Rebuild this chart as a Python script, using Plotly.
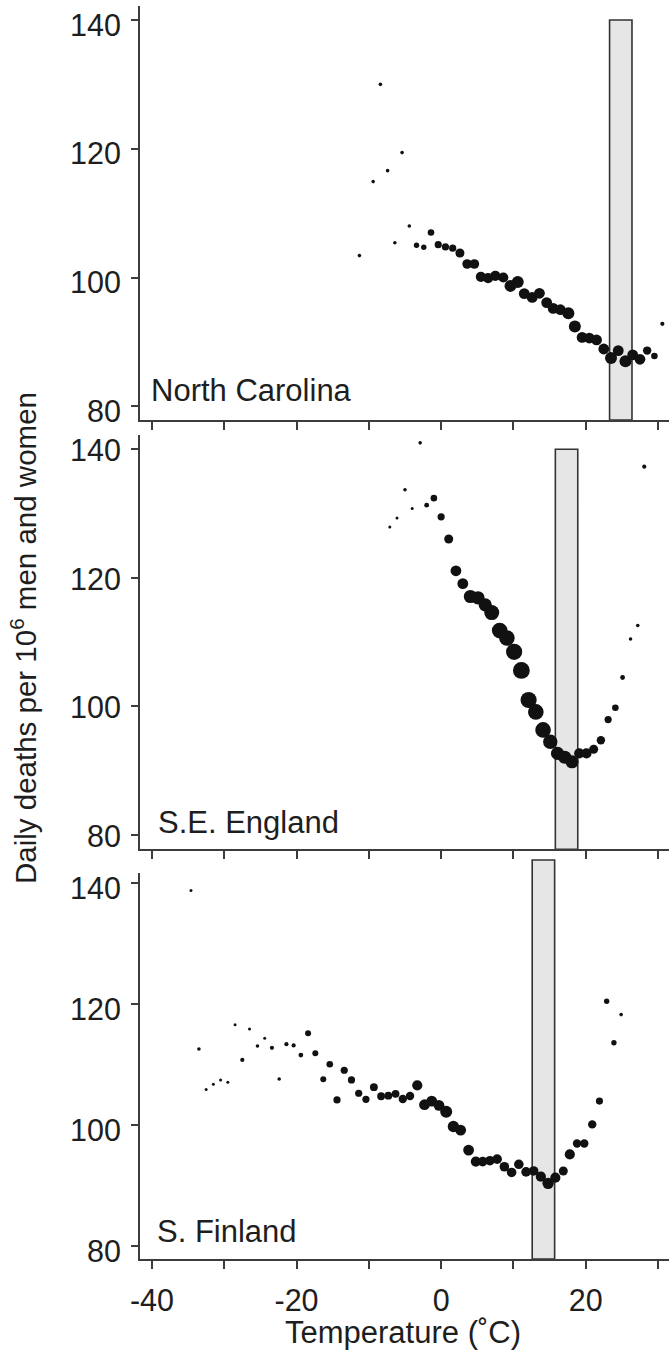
import plotly.graph_objects as go

# ---------------- data ----------------
nc_temp = [-11.3, -9.4, -8.4, -7.4, -6.4, -5.4, -4.4, -3.4, -2.4, -1.4, -0.4, 0.6, 1.6, 2.6,
           3.6, 4.6, 5.5, 6.5, 7.5, 8.6, 9.6, 10.6, 11.5, 12.6, 13.6, 14.6, 15.5, 16.5, 17.6,
           18.5, 19.5, 20.5, 21.5, 22.5, 23.5, 24.5, 25.5, 26.5, 27.5, 28.5, 29.5, 30.6]
nc_deaths = [103.4, 114.9, 130.0, 116.6, 105.4, 119.4, 108.0, 105.0, 104.7, 107.0, 105.1, 104.75,
             104.55, 103.8, 102.1, 102.1, 100.1, 99.9, 100.25, 100.0, 98.7, 99.3, 97.5, 96.9,
             97.55, 96.1, 95.2, 95.0, 94.45, 92.4, 90.7, 90.6, 90.3, 88.9, 87.5, 88.65, 87.0,
             88.0, 87.3, 88.65, 87.8, 92.8]
nc_size = [3, 3, 3, 3, 3, 3, 3, 4.5, 4.5, 5.5, 6, 6, 6, 7.5, 8, 8, 8.5, 8.5, 8.5, 8.5, 10, 10,
           9, 9, 9, 9, 9, 9, 10, 10, 9, 9, 9, 9, 10, 9, 10, 9, 9, 7, 5.5, 3.5]

se_temp = [-7.1, -6.1, -5.0, -4.0, -2.9, -2.0, -1.0, 0.0, 1.05, 2.05, 3.0, 4.05, 5.1, 6.1, 7.0,
           8.1, 9.1, 10.1, 11.1, 12.1, 13.1, 14.1, 15.1, 16.1, 17.1, 18.1, 19.1, 20.1, 21.1,
           22.1, 23.1, 24.1, 25.1, 26.2, 27.2, 28.1]
se_deaths = [127.9, 129.3, 133.7, 130.8, 141.0, 131.3, 132.4, 129.5, 126.05, 121.1, 119.1, 117.1,
             116.9, 115.8, 114.6, 111.8, 110.65, 108.5, 105.6, 101.0, 99.15, 96.35, 94.5, 92.7,
             92.1, 91.4, 92.7, 92.7, 93.35, 94.75, 97.95, 99.8, 104.5, 110.5, 112.6, 137.3]
se_size = [2.5, 2.5, 3, 2.5, 3, 4, 5.5, 6, 7.5, 9, 9, 11, 11, 11, 12.5, 13, 13, 13.5, 14, 13.5,
           13, 13, 12, 11, 11, 11, 8.5, 8.5, 7.5, 7, 6, 5.5, 4, 3, 3, 3.5]

fi_temp = [-34.6, -33.5, -32.5, -31.5, -30.5, -29.5, -28.5, -27.5, -26.5, -25.4, -24.4, -23.4,
           -22.4, -21.4, -20.4, -19.4, -18.4, -17.4, -16.3, -15.4, -14.4, -13.4, -12.4, -11.4,
           -10.4, -9.3, -8.3, -7.3, -6.3, -5.3, -4.3, -3.3, -2.3, -1.3, -0.3, 0.7, 1.7, 2.7, 3.8,
           4.8, 5.75, 6.75, 7.75, 8.75, 9.75, 10.75, 11.75, 12.8, 13.8, 14.8, 15.8, 16.9, 17.8,
           18.8, 19.8, 20.9, 21.9, 22.9, 23.9, 24.9]
fi_deaths = [138.7, 112.5, 105.8, 106.7, 107.4, 107.0, 116.5, 110.7, 115.8, 113.0, 114.3, 112.7,
             107.55, 113.3, 113.1, 111.5, 115.1, 111.8, 107.5, 110.0, 104.1, 109.0, 107.4, 105.2,
             104.2, 106.2, 104.7, 104.8, 105.1, 104.25, 104.75, 106.5, 103.3, 103.9, 103.2,
             102.15, 99.7, 99.1, 95.8, 93.9, 93.9, 94.05, 94.3, 93.05, 92.1, 93.45, 92.2, 92.35,
             91.4, 90.3, 91.25, 92.35, 95.1, 96.9, 96.9, 100.05, 103.9, 120.4, 113.55, 118.2]
fi_size = [2.5, 3, 2.5, 2.5, 2.5, 2.5, 2.5, 3.5, 2.5, 3, 2.5, 3.5, 3, 3.5, 3.5, 4, 5, 5, 5, 5.5,
           6, 6, 6, 6, 6, 6.5, 6.5, 6.5, 6.5, 7, 7, 8.5, 9, 9, 9, 10, 9.5, 9, 9, 8.5, 8, 8, 8, 8,
           8, 8, 8, 8, 8.5, 9.5, 8.5, 7.5, 8.5, 7, 7, 7, 6, 4.5, 4.5, 3]

panel_names = ["North Carolina", "S.E. England", "S. Finland"]
comfort_lo = [23.3, 15.8, 12.6]
comfort_hi = [26.4, 18.9, 15.7]
comfort_top = 140

x_ticks = [-40, -30, -20, -10, 0, 10, 20, 30]
x_tick_text = ["-40", "", "-20", "", "0", "", "20", ""]
y_ticks = [80, 100, 120, 140]

# ---------------- layout helpers ----------------
W, H = 669, 1352
ML, MR, MT, MB = 140, 0, 6, 93
PW, PH = W - ML - MR, H - MT - MB


def pxx(px):
    return (px - ML) / PW


def pxy(py):
    return (H - MB - py) / PH


FONT = "Liberation Sans, Arial, sans-serif"
AX = "#3c3c3c"
TXT = "#1e1e1e"
SIZE_SCALE = 1.2

# pixel extents of the three panels (top, bottom) and y ranges
panels_px = [(6, 420), (435, 849.3), (872.7, 1259)]
y_ranges = [[77.87, 142.17], [77.78, 142.22], [77.80, 141.65]]
y_label_shift = [5, 1, 6]
x_range = [-41.65, 31.52]

fig = go.Figure()
series = [(nc_temp, nc_deaths, nc_size), (se_temp, se_deaths, se_size), (fi_temp, fi_deaths, fi_size)]
for i, (xs, ys, ss) in enumerate(series):
    sfx = "" if i == 0 else str(i + 1)
    fig.add_trace(go.Scatter(
        x=xs, y=ys, mode="markers", xaxis="x" + sfx, yaxis="y" + sfx,
        marker=dict(size=[s * SIZE_SCALE for s in ss], color="#111111", opacity=1,
                    line=dict(width=0)),
        showlegend=False, hoverinfo="skip"))

layout = dict(
    template="none",
    width=W, height=H,
    margin=dict(l=ML, r=MR, t=MT, b=MB, pad=0, autoexpand=False),
    paper_bgcolor="white", plot_bgcolor="rgba(0,0,0,0)",
    font=dict(family=FONT, color=TXT, size=30),
    showlegend=False,
)
for i in range(3):
    sfx = "" if i == 0 else str(i + 1)
    top, bot = panels_px[i]
    layout["xaxis" + sfx] = dict(
        domain=[0, 1], anchor="y" + sfx, range=x_range, automargin=False,
        showline=True, linecolor=AX, linewidth=1.8, mirror=False,
        ticks="outside", ticklen=8, tickwidth=1.6, tickcolor=AX,
        tickvals=x_ticks, ticktext=x_tick_text,
        showticklabels=(i == 2), showgrid=False, zeroline=False,
        tickfont=dict(size=30.5, family=FONT, color=TXT),
        ticklabelstandoff=5,
    )
    layout["yaxis" + sfx] = dict(
        domain=[pxy(bot), pxy(top)], anchor="x" + sfx, range=y_ranges[i], automargin=False,
        showline=True, linecolor=AX, linewidth=1.8, mirror=False,
        ticks="outside", ticklen=7, tickwidth=1.6, tickcolor=AX,
        tickvals=y_ticks, showgrid=False, zeroline=False,
        tickfont=dict(size=30.5, family=FONT, color=TXT),
        ticklabelstandoff=4, ticklabelshift=y_label_shift[i],
    )
fig.update_layout(**layout)

# comfort-zone rectangles
rect_style = dict(fillcolor="#e6e6e6", line=dict(color="#333333", width=1.6), layer="below")
fig.add_shape(type="rect", xref="x", yref="y", x0=comfort_lo[0], x1=comfort_hi[0],
              y0=y_ranges[0][0], y1=comfort_top, **rect_style)
fig.add_shape(type="rect", xref="x2", yref="y2", x0=comfort_lo[1], x1=comfort_hi[1],
              y0=y_ranges[1][0], y1=comfort_top, **rect_style)
fig.add_shape(type="rect", xref="x3", yref="paper", x0=comfort_lo[2], x1=comfort_hi[2],
              y0=0, y1=pxy(860), **rect_style)

# panel labels
label_pos = [(149, 391), (155.5, 822), (155, 1231)]
for name, (lx, ly) in zip(panel_names, label_pos):
    fig.add_annotation(text=name, xref="paper", yref="paper", x=pxx(lx), y=pxy(ly),
                       xanchor="left", yanchor="middle", showarrow=False,
                       font=dict(size=31, family=FONT, color=TXT))

# axis titles
fig.add_annotation(text="Daily deaths per 10<sup>6</sup> men and women", xref="paper", yref="paper",
                   x=pxx(23), y=pxy(638), xanchor="center", yanchor="middle", textangle=-90,
                   showarrow=False, font=dict(size=29.5, family=FONT, color=TXT))
fig.add_annotation(text="Temperature (˚C)", xref="paper", yref="paper",
                   x=pxx(403), y=pxy(1332), xanchor="center", yanchor="middle",
                   showarrow=False, font=dict(size=31, family=FONT, color=TXT))

fig.write_html("out.html", config={"displayModeBar": False},
               post_script="document.body.style.margin='0px';")
